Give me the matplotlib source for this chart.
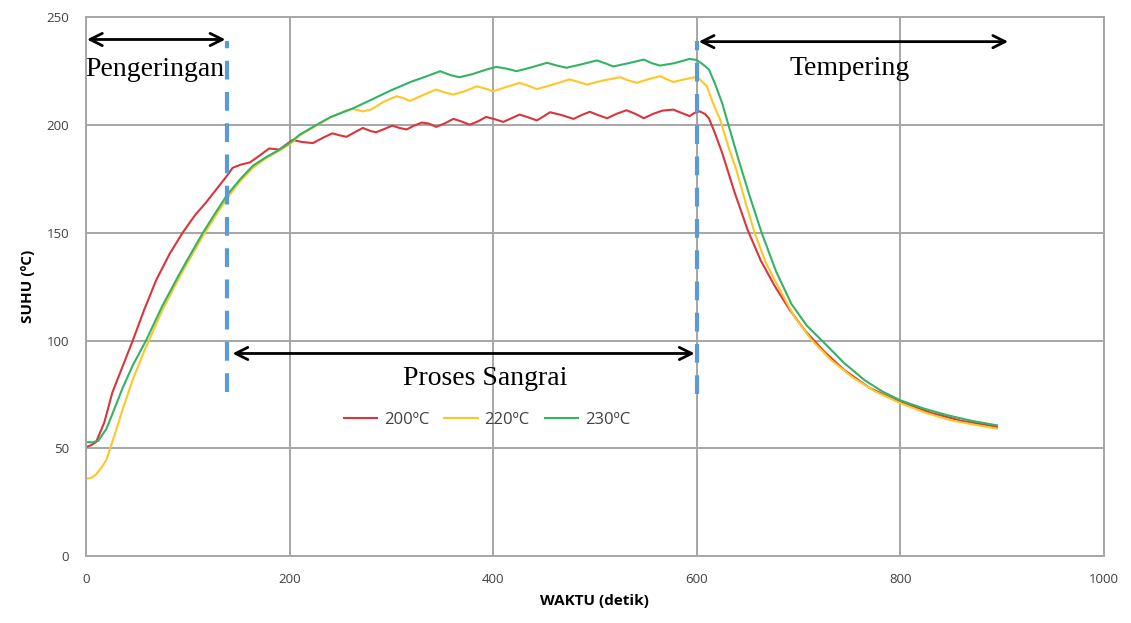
import numpy as np
import matplotlib
matplotlib.use("Agg")
import matplotlib.pyplot as plt

# data (time in s, temperature in degC)
t_200 = [0, 5, 10, 18, 26, 36, 46, 57, 69, 82, 95, 107, 118, 128, 138, 144, 152, 161,
         170, 180, 190, 203, 212, 223, 233, 242, 250, 256, 264, 272, 280, 285, 293, 301,
         308, 315, 322, 330, 337, 344, 352, 361, 369, 377, 385, 393, 402, 410, 418, 426,
         434, 443, 450, 456, 467, 479, 487, 495, 503, 512, 521, 531, 540, 548, 557, 566,
         577, 585, 593, 598, 603, 608, 612, 618, 625, 637, 650, 663, 677, 691, 706, 725,
         745, 770, 800, 830, 860, 895]
suhu_200 = [50.6, 51.5, 53, 62, 76, 88, 100, 114, 128, 140, 150, 158, 164, 170, 176, 180,
            181.5, 182.5, 185.5, 189, 188.5, 193, 192, 191.5, 194, 196, 195, 194.4, 196.5,
            198.5, 197, 196.5, 198, 199.6, 198.5, 197.8, 199.5, 201, 200.5, 199, 200.5,
            202.7, 201.5, 200, 201.5, 203.6, 202.5, 201.3, 203, 204.7, 203.5, 202, 204,
            205.8, 204.5, 202.7, 204.5, 206, 204.5, 203, 205, 206.7, 205, 203, 205, 206.5,
            207, 205.5, 204, 205.5, 206.2, 205, 203, 196, 187, 169, 151.3, 137, 125, 114.5,
            104.8, 95, 86.3, 78, 71.5, 66.5, 62.8, 60]

t_220 = [0, 5, 10, 15, 20, 28, 36, 46, 59, 75, 92, 104, 115, 127, 138, 151, 164, 177,
         190, 200, 210, 225, 240, 255, 262, 272, 280, 292, 305, 312, 318, 330, 344, 352,
         361, 372, 384, 392, 400, 413, 426, 435, 443, 458, 475, 484, 492, 508, 525, 533,
         541, 552, 564, 571, 577, 588, 598, 602, 610, 616, 623, 631, 639, 648, 657, 668,
         680, 696, 713, 732, 753, 775, 800, 825, 850, 875, 895]
suhu_220 = [36, 36.3, 38, 41, 44.6, 56, 68, 82, 97, 114, 129.5, 139.5, 148.5, 157.5, 165.5,
            173.5, 180, 184.5, 188, 191, 195, 199.3, 203.3, 206.5, 207.3, 206.2, 207, 210.5,
            213.2, 212.3, 211, 213.5, 216.3, 215, 214, 215.5, 217.8, 216.8, 215.5, 217.5,
            219.4, 218, 216.5, 218.5, 221, 219.8, 218.6, 220.5, 222, 220.5, 219.4, 221,
            222.5, 221, 219.8, 221, 222, 221.5, 217.8, 210, 202.4, 190, 179, 164, 149.7,
            136, 125, 111, 100.2, 91, 83, 76.5, 71, 66.5, 63, 60.8, 59.2]

t_230 = [0, 6, 12, 20, 26, 36, 46, 59, 75, 92, 104, 115, 127, 138, 151, 164, 177, 190,
         200, 210, 225, 240, 262, 280, 300, 320, 335, 348, 358, 367, 380, 393, 403, 413,
         423, 437, 453, 462, 472, 487, 502, 510, 518, 533, 548, 556, 564, 578, 593, 600,
         606, 612, 618, 625, 633, 641, 652, 664, 678, 693, 708, 726, 745, 765, 782, 800,
         823, 846, 870, 895]
suhu_230 = [53, 52.8, 53.5, 59, 66, 78, 88.5, 100, 116, 131, 141, 150, 159, 167, 174.5,
            181, 185, 188.4, 191.5, 195.4, 199.5, 203.5, 207.5, 211.5, 216, 220, 222.5,
            224.8, 223, 222, 223.5, 225.5, 226.8, 226, 224.8, 226.5, 228.7, 227.5, 226.4,
            228, 229.8, 228.5, 227, 228.5, 230.2, 228.5, 227.4, 228.5, 230.5, 230, 228,
            225.6, 219, 210, 197, 184, 167, 149.7, 132, 117, 107, 98.6, 89.5, 81.6, 76.5,
            72.3, 68.5, 65.4, 62.8, 60.7]

labels = ["200ºC", "220ºC", "230ºC"]
colors = ["#D9353B", "#FFC629", "#33B366"]

fig = plt.figure(figsize=(11.31, 6.23), dpi=100)
ax = fig.add_axes([0.076, 0.107, 0.9, 0.866])

for t, s, c, lab in zip([t_200, t_220, t_230], [suhu_200, suhu_220, suhu_230], colors, labels):
    ax.plot(t, s, color=c, lw=1.5, label=lab, solid_joinstyle="round")

ax.set_xlim(0, 1000)
ax.set_ylim(0, 250)
ax.set_xticks(np.arange(0, 1001, 200))
ax.set_yticks(np.arange(0, 251, 50))
ax.grid(True, color="#A6A6A6", lw=1.4)
ax.set_axisbelow(True)
for s in ax.spines.values():
    s.set_color("#A6A6A6")
    s.set_linewidth(1.4)
ax.tick_params(length=0, labelsize=9.5, labelcolor="#404040", pad=12)
for lab in ax.get_xticklabels() + ax.get_yticklabels():
    lab.set_fontfamily("Open Sans")

ax.set_xlabel("WAKTU (detik)", fontsize=11, fontweight="bold", family="Open Sans", labelpad=6)
ax.set_ylabel("SUHU (ºC)", fontsize=11, fontweight="bold", family="Open Sans", labelpad=8)

# phase markers
ax.plot([139, 139], [76, 239], color="#5B9BD5", lw=3, ls=(0, (4.5, 3)))
ax.plot([600, 600], [75, 239], color="#5B9BD5", lw=3, ls=(0, (4.5, 3)))

arr = dict(arrowstyle="<->", color="black", lw=2, mutation_scale=22, shrinkA=0, shrinkB=0)
ax.annotate("", xy=(1, 239.5), xytext=(137, 239.5), arrowprops=arr)
ax.annotate("", xy=(144, 94), xytext=(598, 94), arrowprops=arr)
ax.annotate("", xy=(602, 238.5), xytext=(906, 238.5), arrowprops=arr)

serif = dict(family="Liberation Serif", fontsize=20, ha="center", va="center")
ax.text(68, 225.5, "Pengeringan", **serif)
ax.text(392, 82.5, "Proses Sangrai", **serif)
ax.text(750, 226, "Tempering", **serif)

leg = ax.legend(loc="center", bbox_to_anchor=(0.394, 0.253), ncol=3, frameon=False,
                fontsize=12, handlelength=2.0, columnspacing=0.9, handletextpad=0.4)
for txt in leg.get_texts():
    txt.set_color("#404040")
    txt.set_fontfamily("Open Sans")

fig.savefig("out.png", dpi=100)
